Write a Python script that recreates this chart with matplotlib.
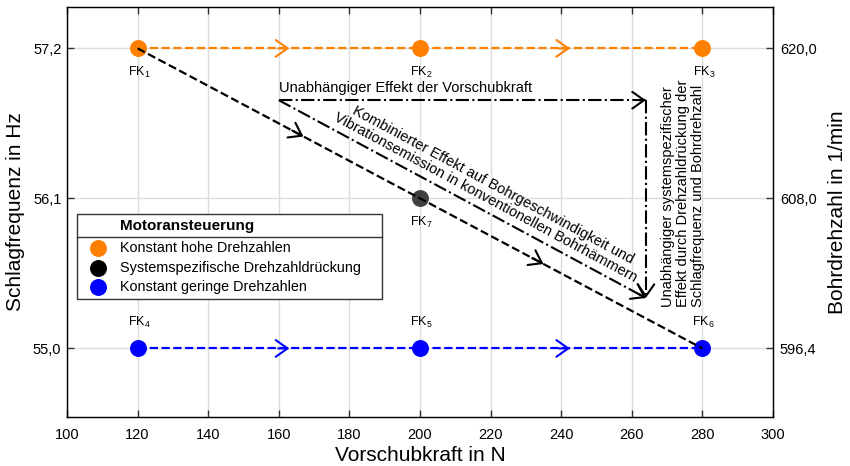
import matplotlib
matplotlib.use('Agg')
import matplotlib.pyplot as plt
from matplotlib.patches import Rectangle
from matplotlib.lines import Line2D

plt.rcParams['font.family'] = ['Liberation Sans', 'DejaVu Sans']
plt.rcParams['mathtext.default'] = 'regular'

# Versuchspunkte (Vorschubkraft in N, Schlagfrequenz in Hz)
vorschubkraft = [120, 200, 280]
schlag_hoch = [57.2, 57.2, 57.2]
schlag_gering = [55.0, 55.0, 55.0]
fk_hoch = ['1', '2', '3']
fk_gering = ['4', '5', '6']
fk7_x, fk7_y = 200, 56.1

schlag_ticks = [55.0, 56.1, 57.2]
schlag_ticklabels = ['55,0', '56,1', '57,2']
bohr_ticklabels = ['596,4', '608,0', '620,0']
x_ticks = list(range(100, 301, 20))

# x-Positionen der Pfeilspitzen
pfeil_horizontal = [163, 242.5]
pfeil_diagonal = [167, 235]

# Effektpfeile (Strich-Punkt)
effekt_start = (160, 56.82)
effekt_ende = (264, 55.37)

legend_labels = ['Konstant hohe Drehzahlen',
                 'Systemspezifische Drehzahldrückung',
                 'Konstant geringe Drehzahlen']

ORANGE = '#ff8000'
BLAU = '#0000ff'
GRAU = '#404040'
MS = 12.2


def chevron(ax, p0, p1, x_tip, color, zorder=4):
    """Offene Pfeilspitze auf der Strecke p0-p1 bei x_tip."""
    if p1[0] == p0[0]:
        t = 1.0
    else:
        t = (x_tip - p0[0]) / (p1[0] - p0[0])
    tip = (p0[0] + t * (p1[0] - p0[0]), p0[1] + t * (p1[1] - p0[1]))
    tb = t - 0.02
    back = (p0[0] + tb * (p1[0] - p0[0]), p0[1] + tb * (p1[1] - p0[1]))
    ax.annotate('', xy=tip, xytext=back, zorder=zorder,
                arrowprops=dict(arrowstyle='->,head_length=0.85,head_width=0.6',
                                color=color, lw=1.5, shrinkA=0, shrinkB=0,
                                mutation_scale=10))


fig = plt.figure(figsize=(8.5, 4.66), dpi=100)
ax = fig.add_axes([0.0788, 0.106, 0.8306, 0.878])

ax.set_xlim(100, 300)
ax.set_ylim(54.5, 57.5)
ax.set_xticks(x_ticks)
ax.set_yticks(schlag_ticks)
ax.set_yticklabels(schlag_ticklabels)
ax.grid(color='#dcdcdc', lw=1)
ax.set_axisbelow(True)
ax.tick_params(direction='in', length=5, width=1, color='#333333',
               labelsize=10.5, top=True)
ax.tick_params(axis='x', pad=8)
ax.tick_params(axis='y', pad=4)
for s in ax.spines.values():
    s.set_color('#222222')
    s.set_linewidth(1)

ax.set_xlabel('Vorschubkraft in N', fontsize=15, labelpad=3)
ax.set_ylabel('Schlagfrequenz in Hz', fontsize=15, labelpad=6)

ax2 = ax.twinx()
ax2.set_ylim(ax.get_ylim())
ax2.set_yticks(schlag_ticks)
ax2.set_yticklabels(bohr_ticklabels)
ax2.tick_params(direction='in', length=5, width=1, color='#333333',
                labelsize=10.5, pad=5)
ax2.set_ylabel('Bohrdrehzahl in 1/min', fontsize=15, labelpad=8)

# gestrichelte Verbindungen
ax.plot(vorschubkraft, schlag_hoch, '--', color=ORANGE, lw=1.6, zorder=3)
ax.plot(vorschubkraft, schlag_gering, '--', color=BLAU, lw=1.6, zorder=3)
for xt in pfeil_horizontal:
    chevron(ax, (vorschubkraft[0], schlag_hoch[0]), (vorschubkraft[-1], schlag_hoch[-1]), xt, ORANGE)
    chevron(ax, (vorschubkraft[0], schlag_gering[0]), (vorschubkraft[-1], schlag_gering[-1]), xt, BLAU)

# Punkte
ax.plot(vorschubkraft, schlag_hoch, 'o', color=ORANGE, ms=MS, mew=0, zorder=5)
ax.plot(vorschubkraft, schlag_gering, 'o', color=BLAU, ms=MS, mew=0, zorder=5)
ax.plot([fk7_x], [fk7_y], 'o', color=GRAU, ms=MS, mew=0, zorder=5)

# diagonale FK1 -> FK6
p_fk1 = (vorschubkraft[0], schlag_hoch[0])
p_fk6 = (vorschubkraft[-1], schlag_gering[-1])
ax.plot([p_fk1[0], p_fk6[0]], [p_fk1[1], p_fk6[1]], '--', color='black', lw=1.6, zorder=6)
for xt in pfeil_diagonal:
    chevron(ax, p_fk1, p_fk6, xt, 'black', zorder=6)

# Beschriftung FK
for x, y, n in zip(vorschubkraft, schlag_hoch, fk_hoch):
    ax.annotate('FK$_{%s}$' % n, (x, y), xytext=(1, -12), textcoords='offset points',
                ha='center', va='top', fontsize=9)
for x, y, n in zip(vorschubkraft, schlag_gering, fk_gering):
    ax.annotate('FK$_{%s}$' % n, (x, y), xytext=(1, 13), textcoords='offset points',
                ha='center', va='bottom', fontsize=9)
ax.annotate('FK$_{7}$', (fk7_x, fk7_y), xytext=(1, -12), textcoords='offset points',
            ha='center', va='top', fontsize=9)

# Effektpfeile
ecke = (effekt_ende[0], effekt_start[1])
ax.plot([effekt_start[0], ecke[0]], [effekt_start[1], ecke[1]], '-.', color='black', lw=1.5, zorder=4)
ax.plot([ecke[0], effekt_ende[0]], [ecke[1], effekt_ende[1]], '-.', color='black', lw=1.5, zorder=4)
ax.plot([effekt_start[0], effekt_ende[0]], [effekt_start[1], effekt_ende[1]], '-.', color='black', lw=1.5, zorder=4)
chevron(ax, effekt_start, ecke, ecke[0], 'black')
chevron(ax, ecke, effekt_ende, effekt_ende[0], 'black')
chevron(ax, effekt_start, effekt_ende, effekt_ende[0], 'black')

ax.text(effekt_start[0], effekt_start[1] + 0.04, 'Unabhängiger Effekt der Vorschubkraft',
        ha='left', va='bottom', fontsize=10.5)
ax.text(219.6, 56.15,
        'Kombinierter Effekt auf Bohrgeschwindigkeit und\n'
        'Vibrationsemission in konventionellen Bohrhämmern',
        rotation=-28.3, rotation_mode='anchor', ha='center', va='center',
        multialignment='center', fontsize=10.5, linespacing=1.05)
ax.text(274.5, 55.30,
        'Unabhängiger systemspezifischer\n'
        'Effekt durch Drehzahldrückung der\n'
        'Schlagfrequenz und Bohrdrehzahl',
        rotation=90, ha='center', va='bottom', multialignment='left',
        fontsize=10.5, linespacing=1.05)

# Legende
tr = ax.transAxes
ax.add_patch(Rectangle((0.0142, 0.2876), 0.4318, 0.2081, transform=tr,
                       facecolor='white', edgecolor='#333333', lw=1, zorder=7))
ax.add_line(Line2D([0.0142, 0.446], [0.4394, 0.4394], transform=tr,
                   color='#333333', lw=1, zorder=8))
ax.text(0.0751, 0.467, 'Motoransteuerung', transform=tr, fontsize=11,
        fontweight='bold', ha='left', va='center', zorder=8)
for yy, col, lab in zip([0.4113, 0.3623, 0.3158], [ORANGE, 'black', BLAU], legend_labels):
    ax.plot([0.0439], [yy], 'o', color=col, ms=MS, mew=0, transform=tr, zorder=8, clip_on=False)
    ax.text(0.0751, yy, lab, transform=tr, fontsize=10.4, ha='left', va='center', zorder=8)

fig.savefig('out.png', dpi=100)
